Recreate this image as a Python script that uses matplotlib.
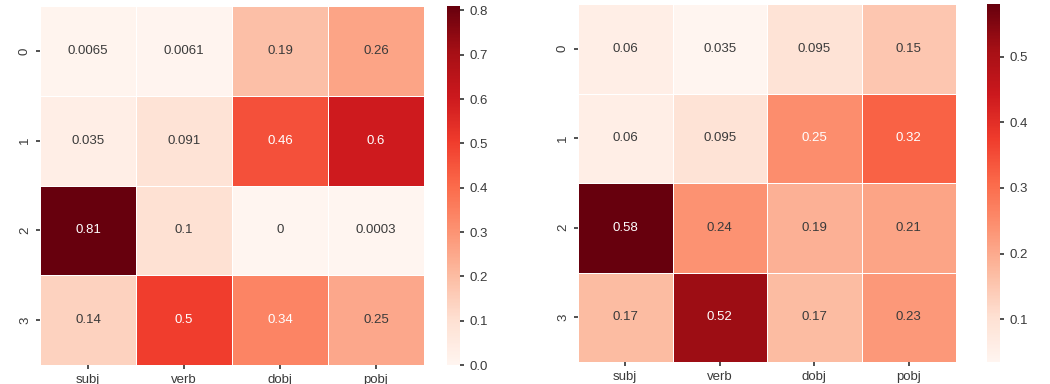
import matplotlib
matplotlib.use("Agg")
import matplotlib.pyplot as plt
import seaborn as sns
import numpy as np

sns.set_theme(style="ticks")
plt.rcParams['font.family'] = ['Liberation Sans', 'DejaVu Sans']

columns = ["subj", "verb", "dobj", "pobj"]
rows = ["0", "1", "2", "3"]

left_values = [
    [0.0065, 0.0061, 0.19, 0.26],
    [0.035, 0.091, 0.46, 0.6],
    [0.81, 0.1, 0, 0.0003],
    [0.14, 0.5, 0.34, 0.25],
]
right_values = [
    [0.06, 0.035, 0.095, 0.15],
    [0.06, 0.095, 0.25, 0.32],
    [0.58, 0.24, 0.19, 0.21],
    [0.17, 0.52, 0.17, 0.23],
]

fig = plt.figure(figsize=(10.5, 3.84), dpi=100)
W, H = 1050, 384

def box(x0, y0, x1, y1):
    return [x0 / W, 1 - y1 / H, (x1 - x0) / W, (y1 - y0) / H]

ax1 = fig.add_axes(box(40, 6, 424, 365))
cax1 = fig.add_axes(box(447, 6, 460, 365))
ax2 = fig.add_axes(box(578, 4, 956, 362))
cax2 = fig.add_axes(box(987, 4, 1000, 362))

txt = "#3a3a3a"
for ax, cax, vals in [(ax1, cax1, left_values), (ax2, cax2, right_values)]:
    sns.heatmap(np.array(vals), ax=ax, cbar_ax=cax, cmap="Reds", annot=True,
                linewidths=0.6, linecolor="white",
                xticklabels=columns, yticklabels=rows,
                annot_kws={"fontsize": 9.5})
    for t in ax.texts:
        if t.get_color() in ("#262626", ".15") or t.get_color() != "w":
            pass
    ax.tick_params(axis="both", labelsize=9.5, colors=txt, length=3)
    ax.tick_params(axis="y", labelrotation=90)
    cax.tick_params(labelsize=9.5, colors=txt, length=3)
    cax.yaxis.set_major_formatter(matplotlib.ticker.FormatStrFormatter('%.1f'))
    for t in ax.texts:
        c = matplotlib.colors.to_rgb(t.get_color())
        if sum(c) < 1.5:
            t.set_color(txt)

fig.savefig("out.png", dpi=100)
